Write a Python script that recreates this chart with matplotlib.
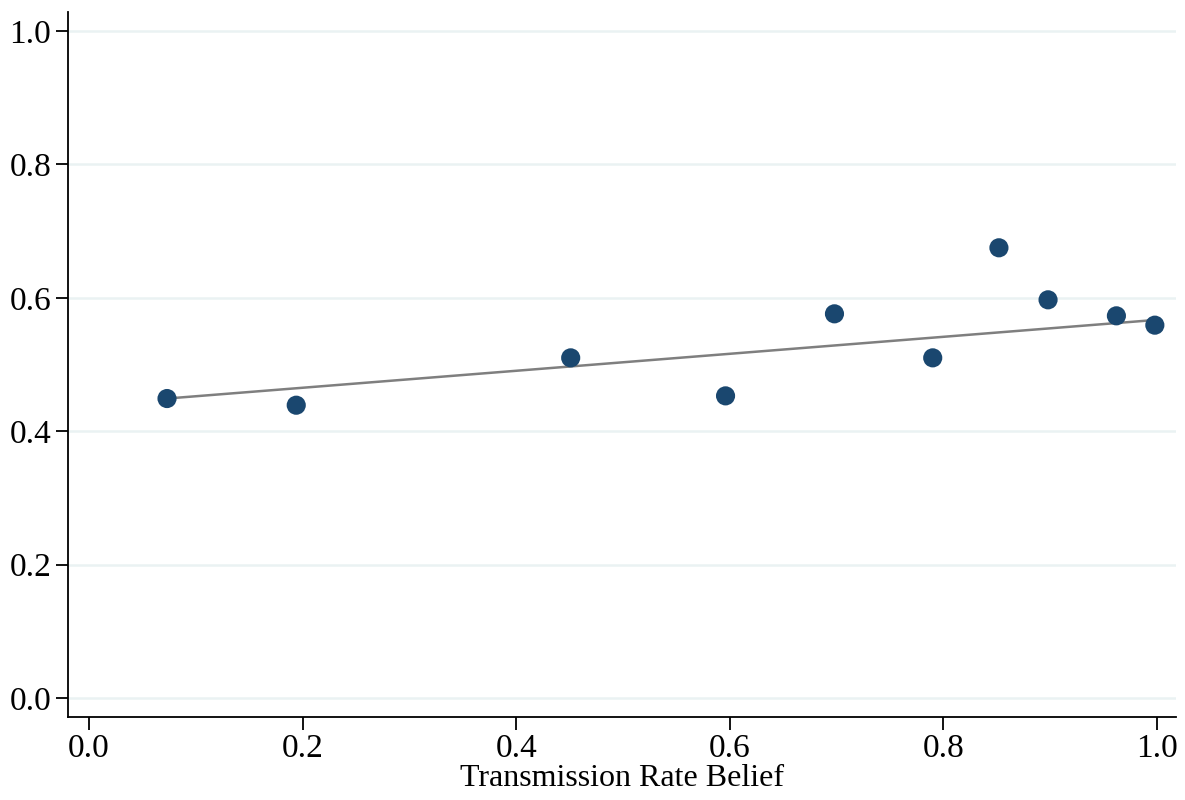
import matplotlib
matplotlib.use('Agg')
import matplotlib.pyplot as plt

# binned means
belief = [0.073, 0.194, 0.451, 0.596, 0.698, 0.790, 0.852, 0.898, 0.962, 0.998]
outcome = [0.449, 0.439, 0.510, 0.453, 0.576, 0.510, 0.675, 0.597, 0.573, 0.559]

# linear fit endpoints
fit_x = [0.073, 1.0]
fit_y = [0.449, 0.567]

ticks = [0.0, 0.2, 0.4, 0.6, 0.8, 1.0]
tick_labels = ['0.0', '0.2', '0.4', '0.6', '0.8', '1.0']

plt.rcParams['font.family'] = ['Liberation Serif', 'DejaVu Serif']
plt.rcParams['font.size'] = 24

fig = plt.figure(figsize=(11.85, 8), dpi=100)
ax = fig.add_axes([0.0574, 0.1037, 0.935, 0.8813])

ax.set_xlim(-0.0197, 1.0178)
ax.set_ylim(-0.0285, 1.0285)

ax.grid(axis='y', color='#eaf2f3', linewidth=1.8)
ax.set_axisbelow(True)

ax.plot(fit_x, fit_y, color='#7f7f7f', linewidth=1.8, zorder=2)
ax.scatter(belief, outcome, s=190, color='#1a476f', edgecolors='none', zorder=3)

ax.set_xticks(ticks)
ax.set_xticklabels(tick_labels)
ax.set_yticks(ticks)
ax.set_yticklabels(tick_labels)
ax.tick_params(direction='out', length=9, width=1.3, color='black', pad=3)

for side in ['top', 'right']:
    ax.spines[side].set_visible(False)
for side in ['left', 'bottom']:
    ax.spines[side].set_linewidth(1.3)

ax.set_xlabel('Transmission Rate Belief', fontsize=23, labelpad=0)

fig.savefig('out.png', dpi=100)
